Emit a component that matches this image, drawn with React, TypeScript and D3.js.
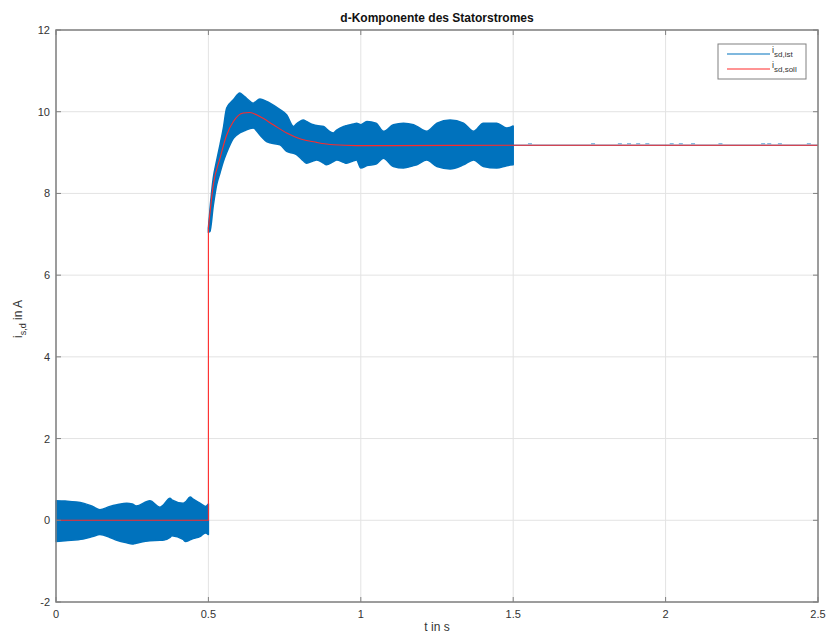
import React from "react";
import * as d3 from "d3";

// ---- data ----
const xTicks = [0, 0.5, 1, 1.5, 2, 2.5];
const xTickLabels = ["0", "0.5", "1", "1.5", "2", "2.5"];
const yTicks = [-2, 0, 2, 4, 6, 8, 10, 12];
const yTickLabels = ["-2", "0", "2", "4", "6", "8", "10", "12"];

// blue i_sd,ist envelope before the step (t 0..0.5)
const band1T = [0, 0.03, 0.089, 0.12, 0.144, 0.177, 0.2, 0.232, 0.25, 0.263, 0.308, 0.341, 0.35, 0.374, 0.38, 0.417, 0.425, 0.44, 0.45, 0.472, 0.49, 0.5];
const band1Up = [0.48, 0.47, 0.42, 0.34, 0.26, 0.34, 0.38, 0.42, 0.4, 0.35, 0.48, 0.32, 0.36, 0.54, 0.5, 0.42, 0.45, 0.57, 0.52, 0.42, 0.34, 0.4];
const band1Lo = [-0.52, -0.5, -0.46, -0.4, -0.35, -0.42, -0.49, -0.55, -0.58, -0.56, -0.5, -0.49, -0.49, -0.42, -0.38, -0.47, -0.52, -0.48, -0.45, -0.4, -0.31, -0.35];

// blue envelope after the step (t 0.5..1.5)
const band2T = [0.5, 0.505, 0.516, 0.527, 0.538, 0.549, 0.56, 0.582, 0.603, 0.614, 0.625, 0.647, 0.669, 0.691, 0.702, 0.735, 0.757, 0.779, 0.789, 0.811, 0.822, 0.845, 0.855, 0.878, 0.887, 0.91, 0.921, 0.944, 0.953, 0.976, 0.986, 1.0, 1.02, 1.05, 1.074, 1.107, 1.14, 1.173, 1.184, 1.216, 1.25, 1.293, 1.337, 1.37, 1.402, 1.446, 1.479, 1.5];
const band2Up = [7.15, 7.6, 8.38, 8.8, 9.19, 9.6, 10.09, 10.29, 10.46, 10.4, 10.33, 10.21, 10.31, 10.25, 10.21, 10.05, 9.92, 9.64, 9.7, 9.8, 9.76, 9.68, 9.66, 9.64, 9.58, 9.48, 9.55, 9.64, 9.66, 9.7, 9.72, 9.68, 9.76, 9.72, 9.52, 9.68, 9.72, 9.68, 9.64, 9.52, 9.72, 9.8, 9.72, 9.52, 9.72, 9.72, 9.6, 9.65];
const band2Lo = [7.05, 7.07, 7.7, 8.21, 8.5, 8.78, 9.0, 9.35, 9.48, 9.52, 9.56, 9.6, 9.43, 9.27, 9.24, 9.19, 9.03, 8.98, 8.95, 8.8, 8.74, 8.8, 8.82, 8.74, 8.7, 8.78, 8.82, 8.76, 8.74, 8.8, 8.82, 8.62, 8.68, 8.72, 8.86, 8.66, 8.62, 8.68, 8.7, 8.82, 8.66, 8.6, 8.7, 8.82, 8.66, 8.62, 8.68, 8.7];

// blue steady-state after 1.5 s and small blips
const steadyT = [1.5, 2.5];
const steadyV = [9.18, 9.18];
const blipT = [1.555, 1.762, 1.85, 1.88, 1.91, 1.94, 2.02, 2.05, 2.09, 2.18, 2.32, 2.34, 2.375, 2.47];

// red i_sd,soll reference
const redStepT = [0, 0.5, 0.5];
const redStepV = [0, 0, 7.15];
const redCurveT = [0.5, 0.516, 0.538, 0.56, 0.582, 0.614, 0.636, 0.669, 0.713, 0.757, 0.8, 0.855, 0.91, 0.986, 1.1, 1.5, 2.0, 2.5];
const redCurveV = [7.15, 8.21, 8.86, 9.43, 9.76, 9.97, 9.98, 9.88, 9.68, 9.48, 9.34, 9.25, 9.19, 9.17, 9.17, 9.18, 9.18, 9.18];

const W = 829;
const H = 637;
const L = 56, R = 818, T = 30, B = 602;

export default function App() {
  const x = d3.scaleLinear().domain([0, 2.5]).range([L, R]);
  const y = d3.scaleLinear().domain([-2, 12]).range([B, T]);

  const band = (ts: number[], up: number[], lo: number[]) =>
    d3
      .area<number>()
      .x((t) => x(t))
      .y0((_, i) => y(lo[i]))
      .y1((_, i) => y(up[i]))
      .curve(d3.curveMonotoneX)(ts) || "";

  const line = (ts: number[], vs: number[], curve: d3.CurveFactory = d3.curveLinear) =>
    d3
      .line<number>()
      .x((t) => x(t))
      .y((_, i) => y(vs[i]))
      .curve(curve)(ts) || "";

  const axisColor = "#808080";
  const gridColor = "#e3e3e3";
  const textColor = "#333";
  const font = "'Liberation Sans', Arial, Helvetica, sans-serif";
  const tickLen = 5;

  return (
    <svg width={W} height={H} style={{ position: "absolute", left: 0, top: 0, background: "#fff" }} fontFamily={font}>
      <rect x={0} y={0} width={W} height={H} fill="#fff" />
      {/* grid */}
      {xTicks.map((t) => (
        <line key={"gx" + t} x1={x(t)} x2={x(t)} y1={T} y2={B} stroke={gridColor} strokeWidth={1} />
      ))}
      {yTicks.map((v) => (
        <line key={"gy" + v} x1={L} x2={R} y1={y(v)} y2={y(v)} stroke={gridColor} strokeWidth={1} />
      ))}

      {/* blue measured current */}
      <path d={band(band1T, band1Up, band1Lo)} fill="#0072BD" stroke="#0072BD" strokeWidth={1.5} strokeLinejoin="round" />
      <path d={band(band2T, band2Up, band2Lo)} fill="#0072BD" stroke="#0072BD" strokeWidth={1.5} strokeLinejoin="round" />
      <path d={line(steadyT, steadyV)} fill="none" stroke="#0072BD" strokeWidth={1} />
      {blipT.map((t, i) => (
        <line key={"b" + i} x1={x(t) - 2} x2={x(t) + 2} y1={y(9.18) - 1.5} y2={y(9.18) - 1.5} stroke="#0072BD" strokeOpacity={0.6} strokeWidth={1} />
      ))}

      {/* red reference */}
      <path d={line(redStepT, redStepV)} fill="none" stroke="#ff2a2a" strokeWidth={1.1} />
      <path d={line(redCurveT, redCurveV, d3.curveMonotoneX)} fill="none" stroke="#ff2a2a" strokeWidth={1.1} />

      {/* axes box */}
      <rect x={L} y={T} width={R - L} height={B - T} fill="none" stroke={axisColor} strokeWidth={1.5} />
      {xTicks.map((t) => (
        <g key={"tx" + t}>
          <line x1={x(t)} x2={x(t)} y1={B} y2={B - tickLen} stroke={axisColor} />
          <line x1={x(t)} x2={x(t)} y1={T} y2={T + tickLen} stroke={axisColor} />
        </g>
      ))}
      {yTicks.map((v) => (
        <g key={"ty" + v}>
          <line x1={L} x2={L + tickLen} y1={y(v)} y2={y(v)} stroke={axisColor} />
          <line x1={R} x2={R - tickLen} y1={y(v)} y2={y(v)} stroke={axisColor} />
        </g>
      ))}

      {/* tick labels */}
      {xTicks.map((t, i) => (
        <text key={"lx" + t} x={x(t)} y={618} textAnchor="middle" fontSize={11} fill={textColor}>
          {xTickLabels[i]}
        </text>
      ))}
      {yTicks.map((v, i) => (
        <text key={"ly" + v} x={L - 6} y={y(v) + 4} textAnchor="end" fontSize={11} fill={textColor}>
          {yTickLabels[i]}
        </text>
      ))}

      {/* title */}
      <text x={(L + R) / 2} y={22} textAnchor="middle" fontSize={12} fontWeight="bold" fill="#111">
        d-Komponente des Statorstromes
      </text>

      {/* x label */}
      <text x={(L + R) / 2} y={631} textAnchor="middle" fontSize={12} fill={textColor}>
        t in s
      </text>

      {/* y label */}
      <text transform={`translate(22, ${(T + B) / 2 + 3}) rotate(-90)`} textAnchor="middle" fontSize={12} fill={textColor}>
        <tspan>i</tspan>
        <tspan fontSize={9} dy={4}>s,d</tspan>
        <tspan dy={-4}> in A</tspan>
      </text>

      {/* legend */}
      <rect x={718} y={44} width={88} height={35} fill="#fff" stroke={axisColor} strokeWidth={1} />
      <line x1={727} x2={770} y1={54} y2={54} stroke="#0072BD" strokeWidth={1.2} />
      <line x1={727} x2={770} y1={69} y2={69} stroke="#ff2a2a" strokeWidth={1.2} />
      <text x={772} y={53} fontSize={9} fill={textColor}>
        <tspan>i</tspan>
        <tspan fontSize={8} dy={4}>sd,ist</tspan>
      </text>
      <text x={772} y={68} fontSize={9} fill={textColor}>
        <tspan>i</tspan>
        <tspan fontSize={8} dy={4}>sd,soll</tspan>
      </text>
    </svg>
  );
}
